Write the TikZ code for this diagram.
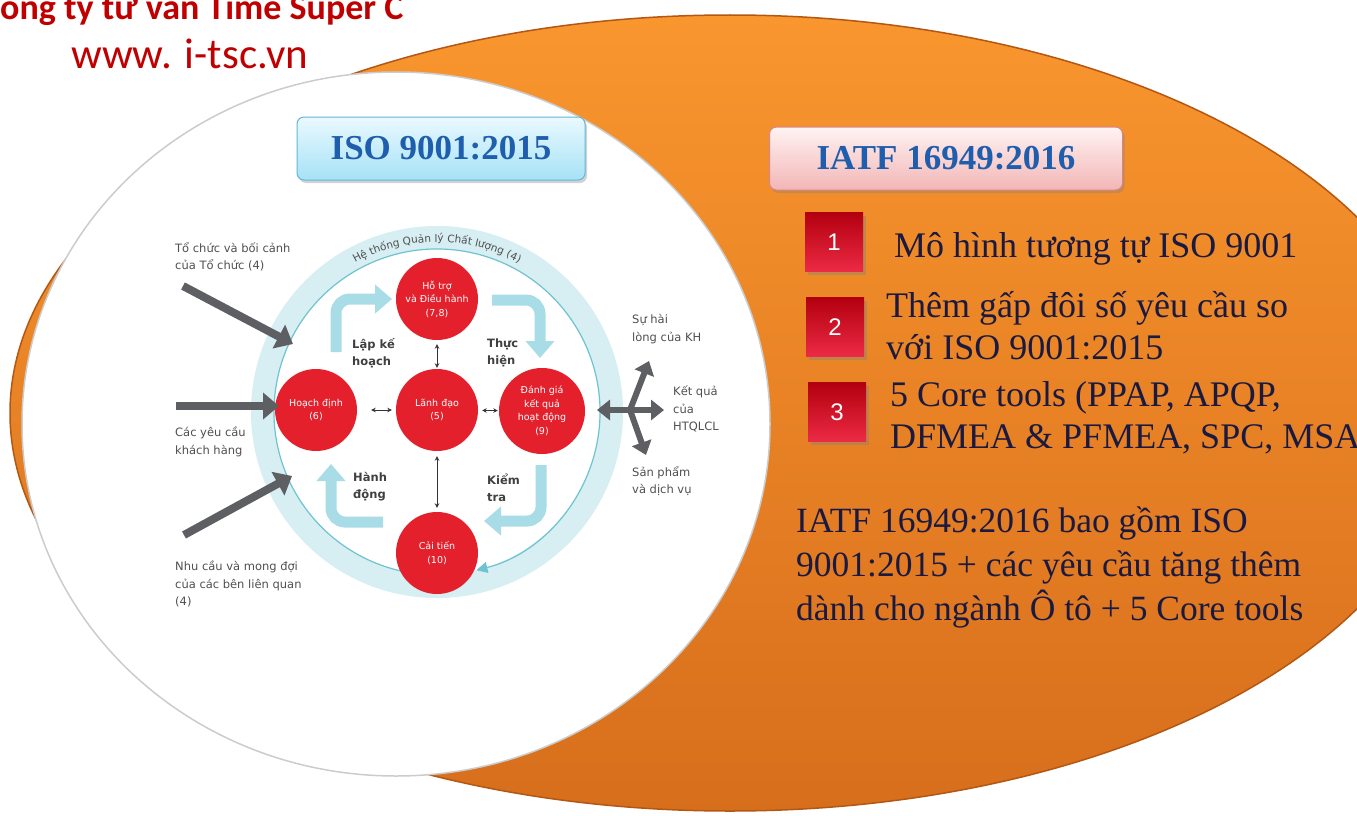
\documentclass[tikz,border=0pt]{standalone}
\usepackage{fontspec}
\setmainfont{Liberation Serif}
\newfontfamily\diagfont{DejaVu Sans}
\newfontfamily\headfont{Carlito}
\newfontfamily\numfont{Liberation Sans}
\usepackage{tikz}
\usetikzlibrary{positioning,calc,arrows.meta,shadows,decorations.text}

\definecolor{orangetop}{HTML}{F9962E}
\definecolor{orangebot}{HTML}{D76E1C}
\definecolor{orangeedge}{HTML}{B35814}
\definecolor{ringband}{HTML}{D7EEF3}
\definecolor{ringline}{HTML}{6EC3D0}
\definecolor{pdcablue}{HTML}{A8DCE6}
\definecolor{qred}{HTML}{E4202C}
\definecolor{arrowgray}{HTML}{5E5F63}
\definecolor{labelgray}{HTML}{505050}
\definecolor{titleblue}{HTML}{1F5EAD}
\definecolor{navytext}{HTML}{1A1A40}
\definecolor{hdrred}{HTML}{C00000}
\definecolor{sqtop}{HTML}{B3000F}
\definecolor{sqbot}{HTML}{EC2A44}
\definecolor{isotop}{HTML}{EAF9FF}
\definecolor{isobot}{HTML}{A6E2F6}
\definecolor{isoedge}{HTML}{62B8D8}
\definecolor{iatftop}{HTML}{FFF3F3}
\definecolor{iatfbot}{HTML}{F3B5B5}
\definecolor{iatfedge}{HTML}{D98585}

\tikzstyle{qcircle} = [circle, fill=qred, minimum size=82pt, inner sep=0pt, text=white, align=center, font=\diagfont\fontsize{9.5}{13.5}\selectfont]
\tikzstyle{pdca} = [draw=pdcablue, line width=11pt, rounded corners=14pt, -{Triangle[length=17pt,width=28pt]}]
\tikzstyle{inarrow} = [draw=arrowgray, line width=8pt, -{Triangle[length=16pt,width=26pt]}]
\tikzstyle{outarrow} = [draw=arrowgray, line width=6pt]
\tikzstyle{linkarrow} = [draw=black!80, line width=0.8pt, {Stealth[length=4.5pt,width=4.5pt]}-{Stealth[length=4.5pt,width=4.5pt]}]
\tikzstyle{cyclelabel} = [anchor=west, inner sep=0pt, align=left, text=black!75, font=\diagfont\bfseries\fontsize{11.5}{17}\selectfont]
\tikzstyle{outlabel} = [anchor=west, inner sep=0pt, align=left, text=labelgray, font=\diagfont\fontsize{11.5}{17.5}\selectfont]
\tikzstyle{titlebox} = [rounded corners=7pt, line width=1pt, minimum height=63pt, text=titleblue, font=\bfseries\fontsize{35}{40}\selectfont, drop shadow={shadow xshift=2pt, shadow yshift=-3pt, opacity=0.35}]
\tikzstyle{numbox} = [minimum width=58pt, minimum height=59pt, inner sep=0pt, top color=sqtop, bottom color=sqbot, text=white, font=\numfont\fontsize{24}{28}\selectfont, drop shadow={shadow xshift=3pt, shadow yshift=-3pt, opacity=0.4}]
\tikzstyle{itemtext} = [anchor=base west, inner sep=0pt, align=left, text=navytext, font=\fontsize{36}{42}\selectfont]

\begin{document}
\begin{tikzpicture}[x=1pt,y=1pt]
\useasboundingbox (0,0) rectangle (1357,-816);
\clip (0,0) rectangle (1357,-816);
\fill[white] (0,0) rectangle (1357,-816);

% background shapes
\shadedraw[top color=orangetop, bottom color=orangebot, draw=orangeedge, line width=1.5pt] (730,-413) ellipse [x radius=720, y radius=398];
\filldraw[fill=white, draw=black!20, line width=1.5pt] (396,-424) ellipse [x radius=374, y radius=352];

% header
\node[anchor=base west, inner sep=0pt, text=hdrred, font=\headfont\bfseries\fontsize{36}{40}\selectfont] (company) at (-19,-20) {Công ty tư vấn Time Super C};
\node[anchor=base west, inner sep=0pt, text=hdrred, font=\headfont\fontsize{43}{48}\selectfont] (website) at (71,-68) {www. i-tsc.vn};

% quality management ring
\coordinate (ringc) at (437,-412);
\fill[ringband] (ringc) circle (186);
\fill[white] (ringc) circle (163);
\draw[ringline, line width=1.2pt, -{Triangle[length=11pt,width=11pt]}] (ringc) ++(-100:163) arc (-100:-436:163);
\path[decorate, decoration={text along path, text align=center, text={|\diagfont\fontsize{10.5}{12}\selectfont\color{labelgray}|Hệ thống Quản lý Chất lượng (4)}}] (ringc) ++(128:170) arc (128:52:170);

% PDCA arrows
\draw[pdca] (336,-352) |- (392,-299);
\draw[pdca] (492,-300) -| (540,-358);
\draw[pdca] (541,-465) |- (484,-521);
\draw[pdca] (383,-522) -| (331,-464);
\node[cyclelabel] (lapke) at (352,-353) {Lập kế\\hoạch};
\node[cyclelabel] (thuchien) at (487,-353) {Thực\\hiện};
\node[cyclelabel] (hanhdong) at (353,-487) {Hành\\động};
\node[cyclelabel] (kiemtra) at (487,-488) {Kiểm\\tra};

% clauses
\node[qcircle] (hotro) at (437,-299) {Hỗ trợ\\và Điều hành\\(7,8)};
\node[qcircle] (hoach) at (316,-410) {Hoạch định\\(6)};
\node[qcircle] (lanh) at (437,-410) {Lãnh đạo\\(5)};
\node[qcircle, minimum size=86pt] (danhgia) at (542,-411) {Đánh giá\\kết quả\\hoạt động\\(9)};
\node[qcircle] (caitien) at (437,-553) {Cải tiến\\(10)};
\draw[linkarrow, shorten <=4pt, shorten >=1pt] (hotro) -- (lanh);
\draw[linkarrow, shorten <=14pt, shorten >=4pt] (hoach) -- (lanh);
\draw[linkarrow, shorten <=4pt, shorten >=1pt] (lanh) -- (danhgia);
\draw[linkarrow, shorten <=5pt, shorten >=4pt] (lanh) -- (caitien);

% inputs
\coordinate (inorg) at (183,-286);
\coordinate (ringorg) at (293,-344);
\coordinate (incust) at (176,-406);
\coordinate (ringcust) at (279,-406);
\coordinate (inparty) at (184,-535);
\coordinate (ringparty) at (292,-476);
\draw[inarrow] (inorg) -- (ringorg);
\draw[inarrow] (incust) -- (ringcust);
\draw[inarrow] (inparty) -- (ringparty);
\node[outlabel] (lblorg) at (175,-257) {Tổ chức và bối cảnh\\của Tổ chức (4)};
\node[outlabel] (lblcust) at (175,-442) {Các yêu cầu\\khách hàng};
\node[outlabel] (lblparty) at (175,-584) {Nhu cầu và mong đợi\\của các bên liên quan\\(4)};

% outputs
\coordinate (outhub) at (630,-410);
\coordinate (outleft) at (597,-410);
\coordinate (outright) at (664,-410);
\coordinate (outup) at (649,-361);
\coordinate (outdown) at (646,-455);
\draw[outarrow, {Triangle[length=13pt,width=20pt]}-{Triangle[length=13pt,width=20pt]}] (outleft) -- (outright);
\draw[outarrow, -{Triangle[length=13pt,width=20pt]}] (outhub) -- (outup);
\draw[outarrow, -{Triangle[length=13pt,width=20pt]}] (outhub) -- (outdown);
\node[outlabel] (lblsat) at (632,-329) {Sự hài\\lòng của KH};
\node[outlabel] (lblres) at (673,-409) {Kết quả\\của\\HTQLCL};
\node[outlabel] (lblprod) at (632,-481) {Sản phẩm\\và dịch vụ};

% titles
\node[titlebox, minimum width=288pt, top color=isotop, bottom color=isobot, draw=isoedge] (isotitle) at (441,-148.5) {ISO 9001:2015};
\node[titlebox, minimum width=353pt, top color=iatftop, bottom color=iatfbot, draw=iatfedge] (iatftitle) at (946,-158.5) {IATF 16949:2016};

% IATF points
\node[numbox] (sqone) at (834,-242) {1};
\node[numbox] (sqtwo) at (835,-327) {2};
\node[numbox] (sqthree) at (837,-412) {3};
\node[itemtext] (itemone) at (894,-257) {Mô hình tương tự ISO 9001};
\node[itemtext] (itemtwo) at (886,-359) {Thêm gấp đôi số yêu cầu so\\với ISO 9001:2015};
\node[itemtext] (itemthree) at (890,-448) {5 Core tools (PPAP, APQP,\\DFMEA \& PFMEA, SPC, MSA)};
\node[itemtext, font=\fontsize{35.5}{44}\selectfont] (summary) at (796,-620) {IATF 16949:2016 bao gồm ISO\\9001:2015 + các yêu cầu tăng thêm\\dành cho ngành Ô tô + 5 Core tools};
\end{tikzpicture}
\end{document}
